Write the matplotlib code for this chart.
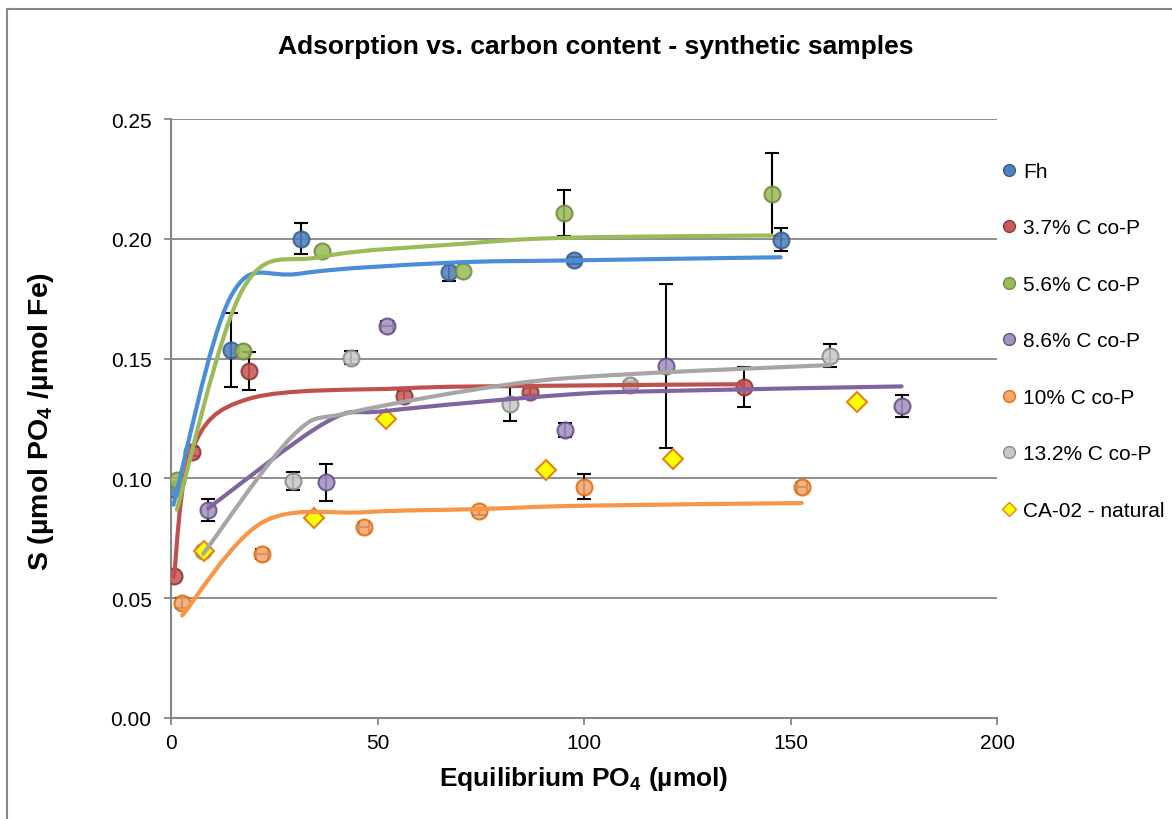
import numpy as np
import matplotlib
matplotlib.use('Agg')
import matplotlib.pyplot as plt
from matplotlib.path import Path
from matplotlib.patches import PathPatch
from matplotlib.lines import Line2D

plt.rcParams['font.family'] = ['Liberation Sans', 'DejaVu Sans']
plt.rcParams['mathtext.fontset'] = 'custom'
plt.rcParams['mathtext.bf'] = 'Liberation Sans:bold'
plt.rcParams['mathtext.rm'] = 'Liberation Sans'

# measured points (x = equilibrium PO4, y = S), error bars, and fitted curve values
fh_x = [0.6, 14.5, 31.4, 67.4, 97.6, 147.6]
fh_y = [0.0955, 0.1536, 0.200, 0.1861, 0.191, 0.1997]
fh_yerr = [0.0, 0.0153, 0.0064, 0.0037, 0.0015, 0.005]
fh_xerr = [0, 0, 0, 0, 0, 0]
fh_fit = [0.089, 0.176, 0.1855, 0.190, 0.191, 0.1923]

c37_x = [0.7, 5.0, 19.0, 56.3, 87.0, 138.7]
c37_y = [0.0592, 0.1112, 0.1448, 0.1344, 0.1362, 0.1383]
c37_yerr = [0.0, 0.002, 0.0078, 0.002, 0.0015, 0.0084]
c37_xerr = [0, 0, 0, 0, 0, 0]
c37_fit = [0.059, 0.1115, 0.1333, 0.1376, 0.1386, 0.1393]

c56_x = [1.4, 17.4, 36.5, 70.6, 95.1, 145.5]
c56_y = [0.0993, 0.1532, 0.1948, 0.1865, 0.2108, 0.2185]
c56_yerr = [0, 0, 0, 0, 0.0095, 0.0175]
c56_xerr = [0, 0, 0, 0, 0, 0]
c56_fit = [0.087, 0.179, 0.1925, 0.1979, 0.2004, 0.2014]

c86_x = [9.0, 37.6, 52.3, 95.3, 119.9, 176.9]
c86_y = [0.0869, 0.0983, 0.1636, 0.1201, 0.1469, 0.1302]
c86_yerr = [0.0046, 0.0078, 0, 0.003, 0.0344, 0.0045]
c86_xerr = [0, 0, 1.5, 0, 0, 0]
c86_fit = [0.0875, 0.1235, 0.1282, 0.1349, 0.1365, 0.1384]

c10_x = [2.7, 22.0, 46.8, 74.5, 99.9, 152.7]
c10_y = [0.048, 0.0685, 0.0796, 0.0863, 0.0965, 0.0965]
c10_yerr = [0.002, 0, 0, 0.0015, 0.0053, 0]
c10_xerr = [0, 1.5, 1.2, 0, 0, 1.2]
c10_fit = [0.0428, 0.0815, 0.0859, 0.0872, 0.0886, 0.0897]

c132_x = [7.8, 29.6, 43.5, 82.1, 111.1, 159.5]
c132_y = [0.0698, 0.0989, 0.1504, 0.131, 0.1389, 0.1511]
c132_yerr = [0, 0.0037, 0.0028, 0.007, 0.0015, 0.0048]
c132_xerr = [0, 0, 0, 0, 1.0, 0]
c132_fit = [0.0685, 0.118, 0.1275, 0.1393, 0.1435, 0.1473]

ca_x = [8.0, 34.7, 52.1, 90.9, 121.5, 166.0]
ca_y = [0.0698, 0.0833, 0.125, 0.1035, 0.108, 0.1317]

labels = ['Fh', '3.7% C co-P', '5.6% C co-P', '8.6% C co-P', '10% C co-P', '13.2% C co-P', 'CA-02 - natural']

series = [
    (fh_x, fh_y, fh_yerr, fh_xerr, fh_fit, '#4F81BD', '#385D8A', '#4A8EDA'),
    (c37_x, c37_y, c37_yerr, c37_xerr, c37_fit, '#C85A57', '#8C3836', '#C0504D'),
    (c56_x, c56_y, c56_yerr, c56_xerr, c56_fit, '#9BBB59', '#71893F', '#9BBB59'),
    (c86_x, c86_y, c86_yerr, c86_xerr, c86_fit, '#A393C0', '#664F86', '#8064A2'),
    (c10_x, c10_y, c10_yerr, c10_xerr, c10_fit, '#F5A671', '#E46C0A', '#F79646'),
    (c132_x, c132_y, c132_yerr, c132_xerr, c132_fit, '#C9C9C9', '#8A8A8A', '#A6A6A6'),
]


def smooth_path(xs, ys):
    # excel-like smoothed line: cubic bezier through the points
    pts = np.column_stack([xs, ys])
    ext = np.vstack([pts[0], pts, pts[-1]])
    verts = [pts[0]]
    codes = [Path.MOVETO]
    for i in range(1, len(ext) - 2):
        p0, p1, p2, p3 = ext[i - 1], ext[i], ext[i + 1], ext[i + 2]
        verts += [p1 + (p2 - p0) / 6, p2 - (p3 - p1) / 6, p2]
        codes += [Path.CURVE4] * 3
    return Path(verts, codes)


fig = plt.figure(figsize=(11.72, 8.2), dpi=100)
ax = fig.add_axes([171 / 1172, 1 - 719 / 820, 826 / 1172, 599 / 820])

grey = '#868686'
for x, y, yerr, xerr, fit, fc, ec, lc in series:
    x = np.array(x)
    y = np.array(y)
    yerr = np.array(yerr)
    xerr = np.array(xerr)
    m = yerr > 0
    ax.errorbar(x[m], y[m], yerr=yerr[m], fmt='none', ecolor='black', elinewidth=1.5,
                capsize=5, capthick=1.5, zorder=2)
    m = xerr > 0
    ax.errorbar(x[m], y[m], xerr=xerr[m], fmt='none', ecolor='black', elinewidth=1.5,
                capsize=4, capthick=1.5, zorder=2)
    ax.plot(x, y, 'o', ms=11.5, mfc=fc, mec=ec, mew=1.5, alpha=0.88, zorder=3)
    ax.add_patch(PathPatch(smooth_path(x, fit), fill=False, edgecolor=lc, lw=3,
                           capstyle='round', zorder=4))

ax.plot(ca_x, ca_y, 'D', ms=10, mfc='#FFFF00', mec='#E3841C', mew=1.5, zorder=3)

ax.set_xlim(0, 200)
ax.set_ylim(0, 0.25)
ax.set_xticks([0, 50, 100, 150, 200])
ax.set_yticks(np.arange(0, 0.26, 0.05))
ax.yaxis.set_major_formatter(matplotlib.ticker.FormatStrFormatter('%.2f'))
ax.grid(axis='y', color=grey, lw=1.3)
ax.set_axisbelow(True)
for s in ['top', 'right']:
    ax.spines[s].set_visible(False)
for s in ['left', 'bottom']:
    ax.spines[s].set_color(grey)
    ax.spines[s].set_linewidth(1.5)
ax.tick_params(axis='both', direction='out', length=5, width=1.3, color=grey,
               labelsize=15, pad=6)
ax.tick_params(axis='y', pad=9)

fig.text(0.5085, 1 - 47 / 820, 'Adsorption vs. carbon content - synthetic samples',
         ha='center', va='center', fontsize=19, fontweight='bold')
fig.text(0.498, 1 - 779 / 820, r'Equilibrium PO$_\mathbf{4}$ (µmol)',
         ha='center', va='center', fontsize=19, fontweight='bold')
fig.text(0.035, 0.4854, r'S (µmol PO$_\mathbf{4}$ /µmol Fe)', rotation=90,
         ha='center', va='center', fontsize=20.5, fontweight='bold')

handles = []
for x, y, yerr, xerr, fit, fc, ec, lc in series:
    handles.append(Line2D([], [], ls='none', marker='o', ms=8.5, mfc=fc, mec=ec, mew=1))
handles.append(Line2D([], [], ls='none', marker='D', ms=7, mfc='#FFFF00', mec='#E3841C', mew=1))
fig.legend(handles, labels, loc='upper left', bbox_to_anchor=(1002 / 1172, 1 - 163 / 820),
           frameon=False, fontsize=15, labelspacing=1.8, handlelength=0.7,
           handletextpad=0.3, borderaxespad=0, borderpad=0)

# chart area border
fig.add_artist(Line2D([7 / 1172, 7 / 1172], [0, 1 - 10 / 820], color=grey, lw=1.5))
fig.add_artist(Line2D([7 / 1172, 1], [1 - 10 / 820, 1 - 10 / 820], color=grey, lw=1.5))

fig.savefig('out.png', dpi=100)
